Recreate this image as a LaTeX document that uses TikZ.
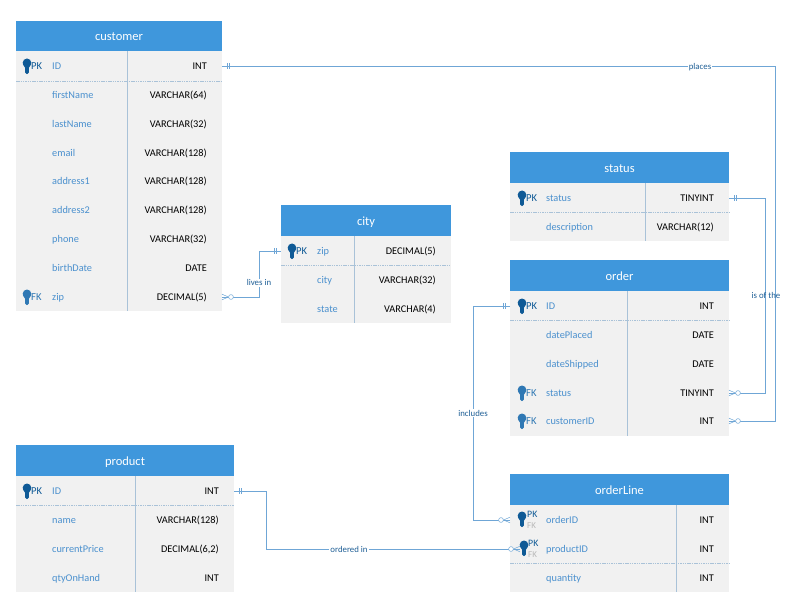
\documentclass[tikz,border=0pt]{standalone}
\usepackage{fontspec}
\setmainfont{Carlito}
\definecolor{hdr}{HTML}{3F97DC}
\definecolor{bodyc}{HTML}{F1F1F1}
\definecolor{namec}{HTML}{4A90CE}
\definecolor{keyc}{HTML}{0F5A96}
\definecolor{fkc}{HTML}{2F78B4}
\definecolor{conn}{HTML}{6FA6D6}
\definecolor{divc}{HTML}{A9C2D8}
\definecolor{lblc}{HTML}{1F5F96}
\tikzset{
 hdrbox/.style={fill=hdr,draw=none,inner sep=0,outer sep=0,text=white,font=\fontsize{12.5}{14}\selectfont,text height=10pt,text depth=0pt},
 bodybox/.style={fill=bodyc,draw=none,inner sep=0,outer sep=0},
 rowcell/.style={draw=none,inner sep=0,outer sep=0,minimum height=1pt},
 fname/.style={anchor=west,inner sep=0,yshift=-1pt,text=namec,font=\fontsize{10.3}{12}\selectfont,text height=7pt,text depth=1.5pt},
 ftype/.style={anchor=east,inner sep=0,yshift=-1pt,text=black,font=\fontsize{10.3}{12}\selectfont,text height=7pt,text depth=1.5pt},
 kpk/.style={anchor=west,inner sep=0,text=keyc,font=\fontsize{10.6}{11}\selectfont},
 kfk/.style={anchor=west,inner sep=0,text=fkc,font=\fontsize{10.6}{11}\selectfont},
 kgrey/.style={anchor=west,inner sep=0,text=black!28,font=\fontsize{9}{10}\selectfont},
 link/.style={draw=conn,line width=0.7pt},
 tick/.style={draw=conn,line width=0.5pt},
 lbl/.style={fill=white,inner sep=1pt,yshift=-0.7pt,text=lblc,font=\fontsize{8.8}{10}\selectfont},
 lblclear/.style={inner sep=0pt,text=lblc,font=\fontsize{8.8}{10}\selectfont},
 divl/.style={draw=divc,line width=0.45pt},
 rowl/.style={draw=divc,line width=0.45pt,dash pattern=on 1.5pt off 0.8pt}
}
% entity: id, x1, y1, x2, y2, yhead, xdiv, title
\newcommand{\entity}[8]{%
 \pgfmathsetmacro\ew{#4-#2}\pgfmathsetmacro\eh{#5-#3}\pgfmathsetmacro\hh{#6-#3}%
 \pgfmathsetmacro\ecx{(#2+#4)/2}\pgfmathsetmacro\ecy{(#3+#5)/2}\pgfmathsetmacro\hcy{(#3+#6)/2}%
 \node[bodybox,minimum width=\ew pt,minimum height=\eh pt] (#1) at (\ecx,\ecy) {};%
 \node[hdrbox,minimum width=\ew pt,minimum height=\hh pt] (#1-head) at (\ecx,\hcy) {#8};%
 \draw[divl] (#7,#6) -- (#7,#5);%
}
% row: id, x1, x2, y, name, type
\newcommand{\frow}[6]{%
 \pgfmathsetmacro\rw{#3-#2}\pgfmathsetmacro\rc{(#2+#3)/2}\pgfmathsetmacro\rn{#2+36}\pgfmathsetmacro\rt{#3-15}%
 \node[rowcell,minimum width=\rw pt] (#1) at (\rc,#4) {};%
 \node[fname] (#1-name) at (\rn,#4) {#5};%
 \node[ftype] (#1-type) at (\rt,#4) {#6};%
}
% key glyph: x, y (row centre), colour
\newcommand{\keyglyph}[3]{%
 \begin{scope}[shift={(#1,#2)}]
  \fill[#3] (0,-2.2) circle[radius=4.3];
  \fill[#3] (-4.1,-1) -- (-1.8,3) -- (-1.8,7.6) -- (0,9.2) -- (1.8,7.6) -- (1.8,3) -- (4.1,-1) -- cycle;
 \end{scope}}
% one-mandatory mark at node anchor, direction +1 right / -1 left
\newcommand{\onemark}[2]{%
 \draw[tick,shift={(#1)},xscale=#2] (5,-2.6) -- (5,2.6) (7.2,-2.6) -- (7.2,2.6);}
% many-optional mark
\newcommand{\crowmark}[2]{%
 \begin{scope}[shift={(#1)},xscale=#2]
  \draw[tick] (0,-2.8) -- (6.5,0) -- (0,2.8);
  \draw[tick,fill=white] (9,0) circle[radius=2.4];
 \end{scope}}
\begin{document}
\begin{tikzpicture}[x=1pt,y=-1pt]
\useasboundingbox (0,0) rectangle (800,612);
\fill[white] (0,0) rectangle (800,612);

% customer
\entity{customer}{16}{21}{222}{311}{51}{127}{customer}
\draw[rowl] (16,81) -- (222,81);
\frow{cID}{16}{222}{66}{ID}{INT}
\frow{cFirst}{16}{222}{95}{firstName}{VARCHAR(64)}
\frow{cLast}{16}{222}{124}{lastName}{VARCHAR(32)}
\frow{cEmail}{16}{222}{153}{email}{VARCHAR(128)}
\frow{cAddr1}{16}{222}{181}{address1}{VARCHAR(128)}
\frow{cAddr2}{16}{222}{210}{address2}{VARCHAR(128)}
\frow{cPhone}{16}{222}{239}{phone}{VARCHAR(32)}
\frow{cBirth}{16}{222}{268}{birthDate}{DATE}
\frow{cZip}{16}{222}{297}{zip}{DECIMAL(5)}
\keyglyph{27}{65}{keyc}\node[kpk] (cIDk) at (31,66) {PK};
\keyglyph{27}{296}{fkc}\node[kfk] (cZipk) at (31,297) {FK};

% city
\entity{city}{281}{205}{451}{323}{236}{354}{city}
\draw[rowl] (281,265) -- (451,265);
\frow{ciZip}{281}{451}{251}{zip}{DECIMAL(5)}
\frow{ciCity}{281}{451}{280}{city}{VARCHAR(32)}
\frow{ciState}{281}{451}{309}{state}{VARCHAR(4)}
\keyglyph{292}{250}{keyc}\node[kpk] (ciZipk) at (296,251) {PK};

% status
\entity{status}{510}{152}{729}{241}{183}{645}{status}
\draw[rowl] (510,212) -- (729,212);
\frow{sStatus}{510}{729}{198}{status}{TINYINT}
\frow{sDesc}{510}{729}{227}{description}{VARCHAR(12)}
\keyglyph{522}{197}{keyc}\node[kpk] (sStatusk) at (526,198) {PK};

% order
\entity{order}{510}{260}{729}{436}{291}{627}{order}
\draw[rowl] (510,320) -- (729,320);
\frow{oID}{510}{729}{306}{ID}{INT}
\frow{oPlaced}{510}{729}{335}{datePlaced}{DATE}
\frow{oShipped}{510}{729}{364}{dateShipped}{DATE}
\frow{oStatus}{510}{729}{393}{status}{TINYINT}
\frow{oCust}{510}{729}{421}{customerID}{INT}
\keyglyph{522}{305}{keyc}\node[kpk] (oIDk) at (526,306) {PK};
\keyglyph{522}{392}{fkc}\node[kfk] (oStatusk) at (526,393) {FK};
\keyglyph{522}{420}{fkc}\node[kfk] (oCustk) at (526,421) {FK};

% product
\entity{product}{16}{445}{234}{592}{476}{135}{product}
\draw[rowl] (16,505) -- (234,505);
\frow{pID}{16}{234}{491}{ID}{INT}
\frow{pName}{16}{234}{520}{name}{VARCHAR(128)}
\frow{pPrice}{16}{234}{549}{currentPrice}{DECIMAL(6,2)}
\frow{pQty}{16}{234}{578}{qtyOnHand}{INT}
\keyglyph{27}{490}{keyc}\node[kpk] (pIDk) at (31,491) {PK};

% orderLine
\entity{orderLine}{510}{474}{729}{592}{505}{676}{orderLine}
\draw[rowl] (510,563.5) -- (729,563.5);
\frow{lOrder}{510}{729}{520}{orderID}{INT}
\frow{lProduct}{510}{729}{549}{productID}{INT}
\frow{lQty}{510}{729}{578}{quantity}{INT}

% free corner coordinates and the entry point over the key
\coordinate (placesX) at (775,66);
\coordinate (ofX) at (765,198);
\coordinate (livesX) at (259,297);
\coordinate (inclX) at (473,306);
\coordinate (ordX) at (266,491);
\coordinate (lProdEnd) at (520,549);

% connectors
\draw[link] (cID.east) -- (placesX) |- (oCust.east) ;
\draw[link] (sStatus.east) -- (ofX) |- (oStatus.east);
\draw[link] (cZip.east) -- (livesX) |- (ciZip.west);
\draw[link] (oID.west) -- (inclX) |- (lOrder.west);
\draw[link] (pID.east) -- (ordX) |- (lProdEnd);

% cardinality marks
\onemark{cID.east}{1}
\onemark{sStatus.east}{1}
\onemark{pID.east}{1}
\onemark{ciZip.west}{-1}
\onemark{oID.west}{-1}
\crowmark{oCust.east}{1}
\crowmark{oStatus.east}{1}
\crowmark{cZip.east}{1}
\crowmark{lOrder.west}{-1}
\crowmark{lProdEnd}{-1}

% orderLine keys, over the marks
\keyglyph{522}{518}{keyc}\node[kpk,font=\fontsize{9.8}{10}\selectfont] (lOrderk) at (527,514.5) {PK};\node[kgrey] (lOrderf) at (527,526) {FK};
\keyglyph{524}{547}{keyc}\node[kpk,font=\fontsize{9.8}{10}\selectfont] (lProductk) at (528,543) {PK};\node[kgrey] (lProductf) at (528,555) {FK};

% labels
\node[lbl] (lbPlaces) at (700,66) {places};
\node[lbl] (lbLives) at (259,282) {lives in};
\node[lblclear] (lbIs) at (766,295) {is of the};
\node[lbl] (lbIncl) at (473,412.5) {includes};
\node[lbl] (lbOrd) at (349,549) {ordered in};
\end{tikzpicture}
\end{document}
